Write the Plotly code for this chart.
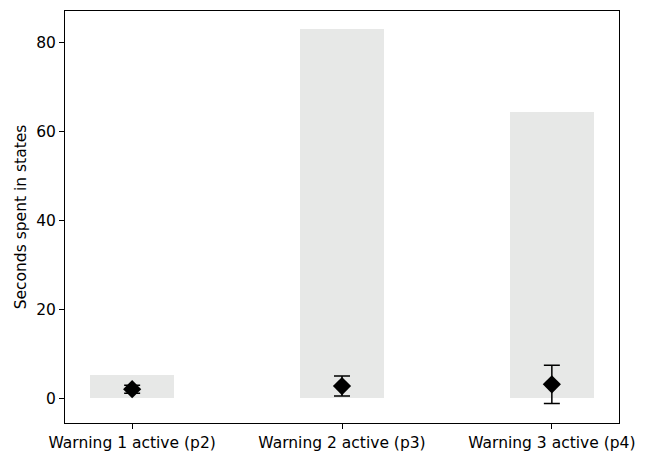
import plotly.graph_objects as go

categories = ["Warning 1 active (p2)", "Warning 2 active (p3)", "Warning 3 active (p4)"]
max_values = [5.2, 83.0, 64.4]
mean_values = [2.0, 2.7, 3.1]
std_values = [0.9, 2.25, 4.3]
y_ticks = [0, 20, 40, 60, 80]

x_pos = list(range(len(categories)))

fig = go.Figure()
fig.add_trace(go.Bar(
    x=x_pos, y=max_values, width=0.4,
    marker=dict(color="#e7e8e7", line=dict(width=0)),
    showlegend=False, hoverinfo="skip",
))
fig.add_trace(go.Scatter(
    x=x_pos, y=mean_values, mode="markers",
    marker=dict(symbol="diamond", size=14, color="black"),
    error_y=dict(type="data", array=std_values, visible=True,
                 color="black", thickness=1.5, width=8),
    showlegend=False,
))

font = dict(family="DejaVu Sans", size=15.5, color="black")
fig.update_layout(
    width=638, height=444,
    margin=dict(l=57, r=27, t=3, b=29),
    plot_bgcolor="white", paper_bgcolor="white",
    font=font,
    bargap=0,
)
fig.update_xaxes(
    range=[-0.32, 2.32], tickvals=x_pos, ticktext=categories,
    showline=True, linecolor="black", linewidth=1, mirror=True,
    ticks="outside", ticklen=5, tickcolor="black",
    showgrid=False, zeroline=False, automargin=False,
    tickfont=font,
)
fig.update_yaxes(
    range=[-5.6, 87.0], tickvals=y_ticks,
    showline=True, linecolor="black", linewidth=1, mirror=True,
    ticks="outside", ticklen=5, tickcolor="black",
    showgrid=False, zeroline=False, automargin=False,
    tickfont=font,
    title=dict(text="Seconds spent in states", standoff=5, font=font),
)

fig.write_html("out.html")
